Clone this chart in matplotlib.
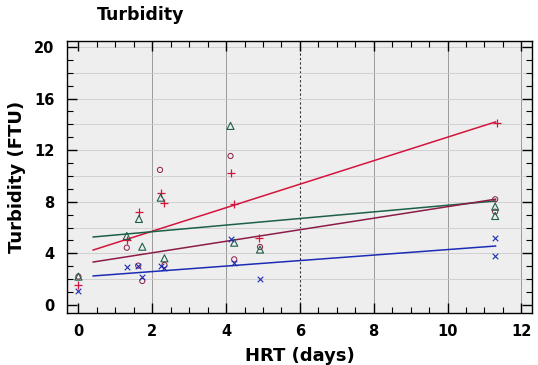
import matplotlib
matplotlib.use("Agg")
import matplotlib.pyplot as plt
import numpy as np
from matplotlib.ticker import MultipleLocator

# HRT (days) and turbidity (FTU)
plus_x = [0.0, 1.31, 1.64, 2.23, 2.33, 4.14, 4.22, 4.90, 11.33]
plus_y = [1.55, 5.04, 7.19, 8.66, 7.93, 10.26, 7.83, 5.17, 14.13]

circle_x = [0.0, 1.31, 1.62, 1.73, 2.21, 2.33, 4.12, 4.22, 4.92, 11.29, 11.29]
circle_y = [2.2, 4.44, 3.05, 1.86, 10.47, 3.10, 11.55, 3.54, 4.50, 8.19, 7.23]

tri_x = [0.0, 1.31, 1.64, 1.73, 2.23, 2.33, 4.12, 4.22, 4.92, 11.29, 11.29]
tri_y = [2.2, 5.35, 6.67, 4.52, 8.32, 3.62, 13.88, 4.83, 4.30, 7.62, 6.90]

cross_x = [0.0, 1.31, 1.62, 1.73, 2.23, 2.33, 4.12, 4.22, 4.92, 11.29, 11.29]
cross_y = [1.1, 2.97, 3.05, 2.19, 3.00, 2.84, 5.09, 3.23, 1.99, 5.17, 3.80]

# fitted lines (ends)
line_x = [0.4, 11.3]
red_line = [4.26, 14.19]
green_line = [5.27, 8.06]
purple_line = [3.33, 8.20]
blue_line = [2.25, 4.57]

red = "#d4143c"
maroon = "#8c1c48"
green = "#1c6048"
blue = "#1c2cb4"

fig = plt.figure(figsize=(5.38, 3.65), dpi=100)
ax = fig.add_axes([0.1245, 0.1425, 0.8645, 0.7452])
ax.set_facecolor("#eeeeee")

ax.set_xlim(-0.31, 12.29)
ax.set_ylim(-0.62, 20.46)

# grid
for gx in [2, 4, 8, 10, 12]:
    ax.axvline(gx, color="#9a9a9a", lw=0.7, zorder=0)
ax.axvline(6, color="#333333", lw=0.8, ls=(0, (2, 2)), zorder=0)
for gy in np.arange(2, 21, 2):
    ax.axhline(gy, color="#cccccc", lw=0.6, zorder=0)

ax.plot(line_x, red_line, color=red, lw=1.1)
ax.plot(line_x, green_line, color=green, lw=1.1)
ax.plot(line_x, purple_line, color=maroon, lw=1.1)
ax.plot(line_x, blue_line, color=blue, lw=1.1)

ax.scatter(plus_x, plus_y, marker="+", s=26, color=red, lw=0.9, zorder=3)
ax.scatter(circle_x, circle_y, marker="o", s=14, facecolors="none",
           edgecolors=maroon, lw=0.7, zorder=3)
ax.scatter(tri_x, tri_y, marker="^", s=26, facecolors="none",
           edgecolors=green, lw=0.8, zorder=3)
ax.scatter(cross_x, cross_y, marker="x", s=16, color=blue, lw=0.8, zorder=3)

ax.xaxis.set_major_locator(MultipleLocator(2))
ax.xaxis.set_minor_locator(MultipleLocator(0.5))
ax.yaxis.set_major_locator(MultipleLocator(4))
ax.yaxis.set_minor_locator(MultipleLocator(1))
ax.tick_params(which="both", direction="in", top=True, right=True,
               labeltop=False, labelright=False)
ax.tick_params(which="major", length=7, width=1.0)
ax.tick_params(which="minor", length=4, width=0.8)
ax.tick_params(axis="x", pad=8)
ax.tick_params(axis="y", pad=9)
for lab in ax.get_xticklabels() + ax.get_yticklabels():
    lab.set_fontsize(10.5)
    lab.set_fontweight("bold")

for sp in ax.spines.values():
    sp.set_linewidth(1.0)

ax.set_xlabel("HRT (days)", fontsize=13, fontweight="bold", labelpad=6)
ax.set_ylabel("Turbidity (FTU)", fontsize=13, fontweight="bold", labelpad=6)

fig.text(0.18, 0.958, "Turbidity", fontsize=12.5, fontweight="bold",
         ha="left", va="center")

fig.savefig("out.png", dpi=100)
